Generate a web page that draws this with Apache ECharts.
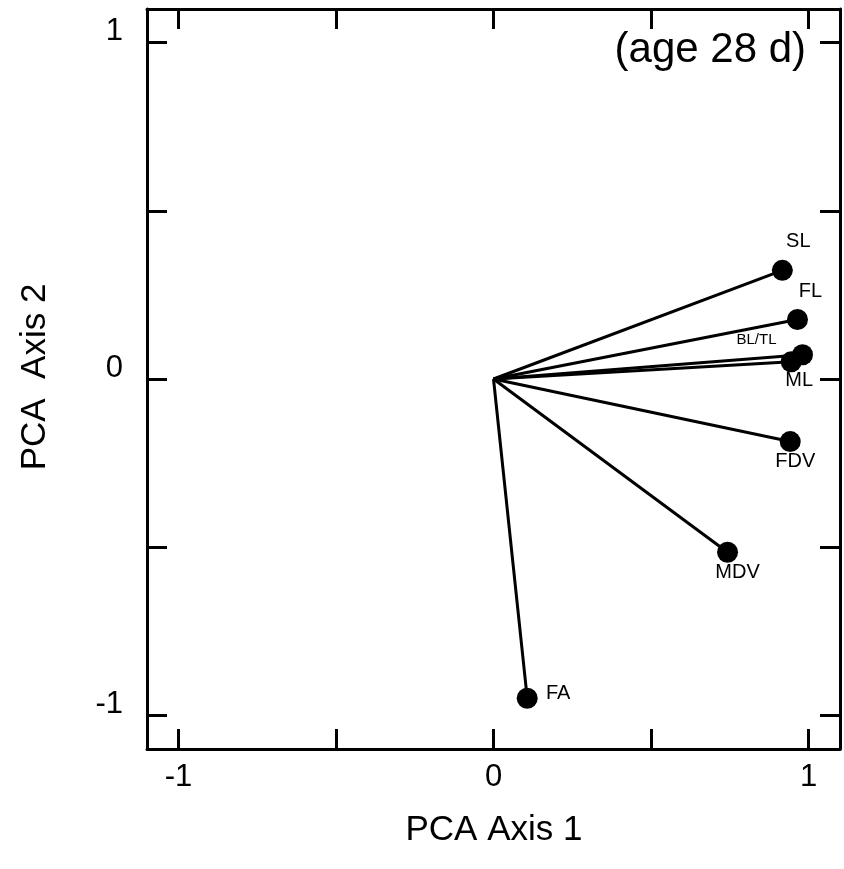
<!DOCTYPE html>
<html>
<head>
<meta charset="utf-8">
<script src="https://cdn.jsdelivr.net/npm/echarts@6/dist/echarts.min.js"></script>
<style>
  html, body { margin: 0; padding: 0; background: #fff; }
  #chart { width: 844px; height: 869px; }
</style>
</head>
<body>
<div id="chart"></div>
<script>
// loadings for PCA axes 1 and 2 (age 28 d)
var names = ['SL', 'FL', 'BL/TL', 'ML', 'FDV', 'MDV', 'FA'];
var axis1 = [0.917, 0.965, 0.981, 0.945, 0.942, 0.743, 0.107];
var axis2 = [0.323, 0.177, 0.072, 0.051, -0.186, -0.515, -0.949];
var tickValues = [-1, -0.5, 0, 0.5, 1];
var labelValues = [-1, 0, 1];

// label placement next to each point
var labelOffsets = {
    'SL': [16, -29], 'FL': [13, -28], 'BL/TL': [-46, -15], 'ML': [8, 19],
    'FDV': [5, 20], 'MDV': [10, 20], 'FA': [31, -5]
};

var font = 'Liberation Sans, Arial, sans-serif';

var pointData = names.map(function (n, i) {
    return {
        value: [axis1[i], axis2[i]],
        label: {
            show: true,
            formatter: n,
            position: 'inside',
            offset: labelOffsets[n],
            fontSize: n === 'BL/TL' ? 15 : 20,
            color: '#000',
            fontFamily: font
        }
    };
});

var vectorSeries = names.map(function (n, i) {
    return {
        type: 'line',
        data: [[0, 0], [axis1[i], axis2[i]]],
        symbol: 'none',
        lineStyle: { color: '#000', width: 3 },
        silent: true,
        z: 2
    };
});

function baseAxis(pos, showLabel) {
    return {
        type: 'value',
        position: pos,
        min: -1.1,
        max: 1.1,
        splitLine: { show: false },
        axisLine: { show: true, onZero: false, lineStyle: { color: '#000', width: 3 } },
        axisTick: { show: true, inside: true, length: 20, lineStyle: { color: '#000', width: 3 }, customValues: tickValues },
        axisLabel: { show: showLabel, customValues: labelValues, color: '#000', fontSize: 31, fontFamily: font }
    };
}

var xBottom = baseAxis('bottom', true);
xBottom.axisLabel.margin = 13;
var xTop = baseAxis('top', false);

var yLeft = baseAxis('left', true);
yLeft.axisLabel.margin = 24;
yLeft.axisLabel.verticalAlign = 'bottom';
yLeft.axisLabel.lineHeight = 22;
var yRight = baseAxis('right', false);

var chart = echarts.init(document.getElementById('chart'));
chart.setOption({
    animation: false,
    grid: { left: 147, right: 4, top: 9, bottom: 120, containLabel: false },
    xAxis: [xBottom, xTop],
    yAxis: [yLeft, yRight],
    graphic: [{
        type: 'text',
        x: 806, y: 50,
        style: { text: '(age 28 d)', font: '42px ' + font, fill: '#000', align: 'right', verticalAlign: 'middle' }
    }, {
        type: 'text',
        x: 494, y: 830,
        style: { text: 'PCA Axis 1', font: '35px ' + font, fill: '#000', align: 'center', verticalAlign: 'middle' }
    }, {
        type: 'text',
        x: 35, y: 377, rotation: Math.PI / 2,
        style: { text: 'PCA  Axis 2', font: '35px ' + font, fill: '#000', align: 'center', verticalAlign: 'middle' }
    }],
    series: vectorSeries.concat([{
        type: 'scatter',
        data: pointData,
        symbol: 'circle',
        symbolSize: 21,
        itemStyle: { color: '#000', opacity: 1 },
        z: 3
    }])
});
</script>
</body>
</html>
